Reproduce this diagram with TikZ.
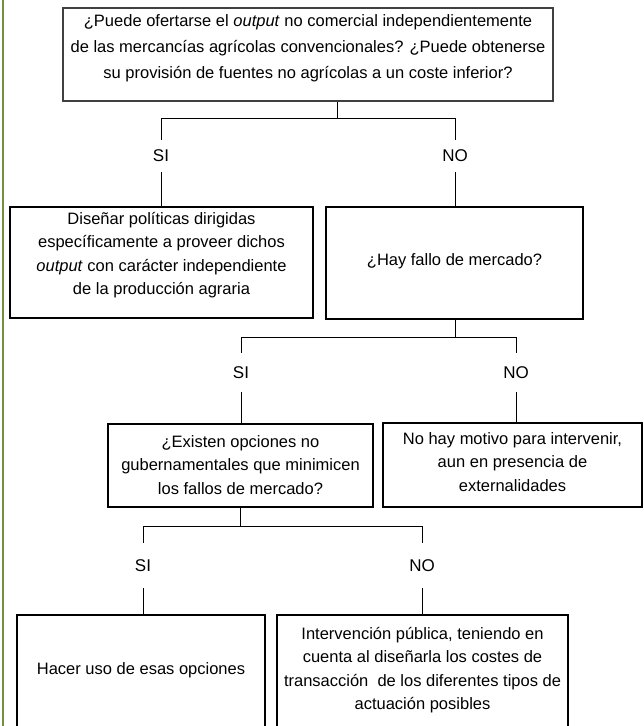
\documentclass[tikz,border=0pt]{standalone}
\usepackage{fontspec}
\setmainfont{Liberation Sans}
\definecolor{leafgreen}{RGB}{112,146,64}
\begin{document}
\begin{tikzpicture}[x=1pt,y=-1pt,
  frame/.style={draw, line width=1.1pt, inner sep=0pt},
  topframe/.style={frame, draw=black!75, line width=1.6pt},
  txt/.style={align=center, inner sep=0pt, font=\fontsize{16.5}{23.5}\selectfont},
  toptxt/.style={txt, font=\fontsize{16.5}{26}\selectfont},
  lbl/.style={inner sep=0pt, font=\fontsize{17}{20}\selectfont},
  conn/.style={line width=1pt}]
\useasboundingbox (0,0) rectangle (644,726);
\clip (0,0) rectangle (644,726);
\fill[white] (0,0) rectangle (644,726);
\draw[line width=2pt, leafgreen] (3,0) -- (3,726);

% box frames
\node[topframe, minimum width=490pt, minimum height=93pt] (q1) at (308,54.5) {};
\node[frame, minimum width=303pt, minimum height=111pt] (d1) at (161.5,262.5) {};
\node[frame, minimum width=257pt, minimum height=112pt] (q2) at (454.5,263) {};
\node[frame, minimum width=265pt, minimum height=83pt] (q3) at (240.5,465.5) {};
\node[frame, minimum width=259pt, minimum height=84pt] (d2) at (512.5,465) {};
\node[frame, minimum width=248pt, minimum height=114pt] (d3) at (141,672) {};
\node[frame, minimum width=291pt, minimum height=114pt] (d4) at (422.5,672) {};

% box texts
\node[toptxt] (q1t) at (308,48)
  {¿Puede ofertarse el \textit{output} no comercial independientemente\\
   de las mercancías agrícolas convencionales? ¿Puede obtenerse\\
   su provisión de fuentes no agrícolas a un coste inferior?};
\node[txt] (d1t) at (161.5,255)
  {Diseñar políticas dirigidas\\
   específicamente a proveer dichos\\
   \textit{output} con carácter independiente\\
   de la producción agraria};
\node[txt] (q2t) at (454.5,261)
  {¿Hay fallo de mercado?};
\node[txt] (q3t) at (240.5,465)
  {¿Existen opciones no\\
   gubernamentales que minimicen\\
   los fallos de mercado?};
\node[txt] (d2t) at (512.5,462)
  {No hay motivo para intervenir,\\
   aun en presencia de\\
   externalidades};
\node[txt] (d3t) at (141,670)
  {Hacer uso de esas opciones};
\node[txt] (d4t) at (422.5,670)
  {Intervención pública, teniendo en\\
   cuenta al diseñarla los costes de\\
   transacción\ \ de los diferentes tipos de\\
   actuación posibles};

% labels
\node[lbl, minimum height=32pt] (si1) at (161,156) {SI};
\node[lbl, minimum height=32pt] (no1) at (455,156) {NO};
\node[lbl, minimum height=39pt] (si2) at (241,372.5) {SI};
\node[lbl, minimum height=39pt] (no2) at (516,372.5) {NO};
\node[lbl, minimum height=45pt] (si3) at (143,565.5) {SI};
\node[lbl, minimum height=45pt] (no3) at (422,565.5) {NO};

% junctions
\coordinate (j1) at (337,118);
\coordinate (j2) at (455,337);
\coordinate (j3) at (240.5,526);

% connectors
\draw[conn] (q1.south -| j1) -- (j1);
\draw[conn] (si1.north) -- (si1.north |- j1) -- (no1.north |- j1) -- (no1.north);
\draw[conn] (si1.south) -- (si1.south |- d1.north);
\draw[conn] (no1.south) -- (no1.south |- q2.north);

\draw[conn] (q2.south -| j2) -- (j2);
\draw[conn] (si2.north) -- (si2.north |- j2) -- (no2.north |- j2) -- (no2.north);
\draw[conn] (si2.south) -- (si2.south |- q3.north);
\draw[conn] (no2.south) -- (no2.south |- d2.north);

\draw[conn] (q3.south -| j3) -- (j3);
\draw[conn] (si3.north) -- (si3.north |- j3) -- (no3.north |- j3) -- (no3.north);
\draw[conn] (si3.south) -- (si3.south |- d3.north);
\draw[conn] (no3.south) -- (no3.south |- d4.north);
\end{tikzpicture}
\end{document}
